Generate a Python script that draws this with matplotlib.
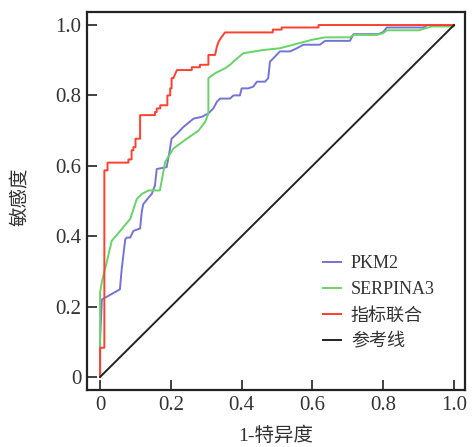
"""ROC curves: PKM2, SERPINA3 and combined markers"""

import matplotlib
matplotlib.use('Agg')
import matplotlib.pyplot as plt

plt.rcParams['font.family'] = ['Liberation Serif', 'Noto Sans CJK SC']

# ROC vertices (1-specificity, sensitivity)
pkm2_fpr = [0, 0, 0.005, 0.056, 0.061, 0.071, 0.075, 0.085, 0.094, 0.113, 0.118,
            0.122, 0.137, 0.146, 0.155, 0.160, 0.188, 0.196, 0.202, 0.217, 0.235,
            0.264, 0.287, 0.306, 0.320, 0.330, 0.339, 0.367, 0.377, 0.395, 0.400,
            0.419, 0.433, 0.443, 0.466, 0.475, 0.480, 0.490, 0.508, 0.537, 0.556,
            0.574, 0.621, 0.636, 0.706, 0.716, 0.786, 0.800, 0.810, 0.913, 0.925, 1.0]
pkm2_tpr = [0, 0.106, 0.220, 0.249, 0.306, 0.391, 0.396, 0.396, 0.415, 0.422, 0.472,
            0.491, 0.510, 0.520, 0.544, 0.591, 0.596, 0.639, 0.677, 0.691, 0.710,
            0.734, 0.739, 0.749, 0.763, 0.782, 0.791, 0.791, 0.800, 0.800, 0.820,
            0.820, 0.825, 0.839, 0.839, 0.849, 0.896, 0.906, 0.925, 0.925, 0.934,
            0.944, 0.944, 0.955, 0.955, 0.974, 0.974, 0.980, 0.993, 0.993, 1.0, 1.0]

serp_fpr = [0, 0, 0.005, 0.014, 0.033, 0.061, 0.085, 0.104, 0.118, 0.137, 0.169,
            0.184, 0.207, 0.245, 0.278, 0.297, 0.306, 0.306, 0.325, 0.353, 0.367,
            0.381, 0.405, 0.461, 0.508, 0.546, 0.598, 0.636, 0.706, 0.716, 0.782,
            0.800, 0.810, 0.900, 0.937, 1.0, 1.0]
serp_tpr = [0, 0.240, 0.270, 0.306, 0.387, 0.420, 0.449, 0.506, 0.520, 0.530, 0.530,
            0.611, 0.649, 0.677, 0.700, 0.725, 0.749, 0.849, 0.863, 0.877, 0.887,
            0.900, 0.920, 0.929, 0.934, 0.944, 0.958, 0.965, 0.965, 0.972, 0.972,
            0.977, 0.985, 0.985, 0.996, 0.996, 1.0]

comb_fpr = [0, 0, 0.012, 0.012, 0.021, 0.021, 0.080, 0.080, 0.089, 0.089, 0.094,
            0.094, 0.100, 0.100, 0.113, 0.113, 0.155, 0.155, 0.160, 0.160, 0.170,
            0.170, 0.190, 0.190, 0.198, 0.198, 0.202, 0.202, 0.207, 0.217, 0.259,
            0.259, 0.282, 0.282, 0.306, 0.306, 0.325, 0.330, 0.335, 0.344, 0.353,
            0.488, 0.488, 0.513, 0.513, 0.617, 0.617, 1.0]
comb_tpr = [0, 0.083, 0.083, 0.587, 0.587, 0.609, 0.609, 0.618, 0.618, 0.644, 0.644,
            0.653, 0.653, 0.677, 0.677, 0.744, 0.744, 0.753, 0.753, 0.763, 0.763,
            0.772, 0.772, 0.800, 0.800, 0.820, 0.820, 0.849, 0.849, 0.872, 0.872,
            0.880, 0.880, 0.887, 0.887, 0.915, 0.915, 0.939, 0.953, 0.967, 0.979,
            0.979, 0.987, 0.987, 0.993, 0.993, 1.0, 1.0]

ref_x = [0, 1]
ref_y = [0, 1]

labels = ['PKM2', 'SERPINA3', '指标联合', '参考线']
colors = ['#7373d9', '#66d466', '#ff3f2f', '#222222']
ticks = [0, 0.2, 0.4, 0.6, 0.8, 1.0]
tick_labels = ['0', '0.2', '0.4', '0.6', '0.8', '1.0']

fig = plt.figure(figsize=(4.77, 4.47), dpi=100)
ax = fig.add_axes([87 / 477, 57 / 447, 378 / 477, 378 / 447])

ax.plot(pkm2_fpr, pkm2_tpr, color=colors[0], lw=1.4, label=labels[0])
ax.plot(serp_fpr, serp_tpr, color=colors[1], lw=1.4, label=labels[1])
ax.plot(comb_fpr, comb_tpr, color=colors[2], lw=1.4, label=labels[2])
ax.plot(ref_x, ref_y, color=colors[3], lw=1.4, label=labels[3])

ax.set_xlim(-0.037, 1.031)
ax.set_ylim(-0.037, 1.037)
ax.set_xticks(ticks)
ax.set_xticklabels(tick_labels)
ax.set_yticks(ticks)
ax.set_yticklabels(tick_labels)
ax.tick_params(direction='in', length=7, width=1.3, labelsize=15, pad=4,
               colors='#333333')

for sp in ax.spines.values():
    sp.set_linewidth(1.6)
    sp.set_color('#222222')

ax.set_xlabel('1-特异度', fontsize=14, color='#333333', va='center')
ax.set_ylabel('敏感度', fontsize=14, color='#333333', va='center')
ax.xaxis.set_label_coords(0.5, -0.122)
ax.yaxis.set_label_coords(-0.177, 0.51)

leg = ax.legend(loc='upper left', bbox_to_anchor=(0.624, 0.356), frameon=False,
                fontsize=13, handlelength=1.0, handletextpad=0.55,
                labelspacing=0.5, borderpad=0, borderaxespad=0)
for t in leg.get_texts():
    t.set_color('#333333')

fig.savefig('out.png', dpi=100)
